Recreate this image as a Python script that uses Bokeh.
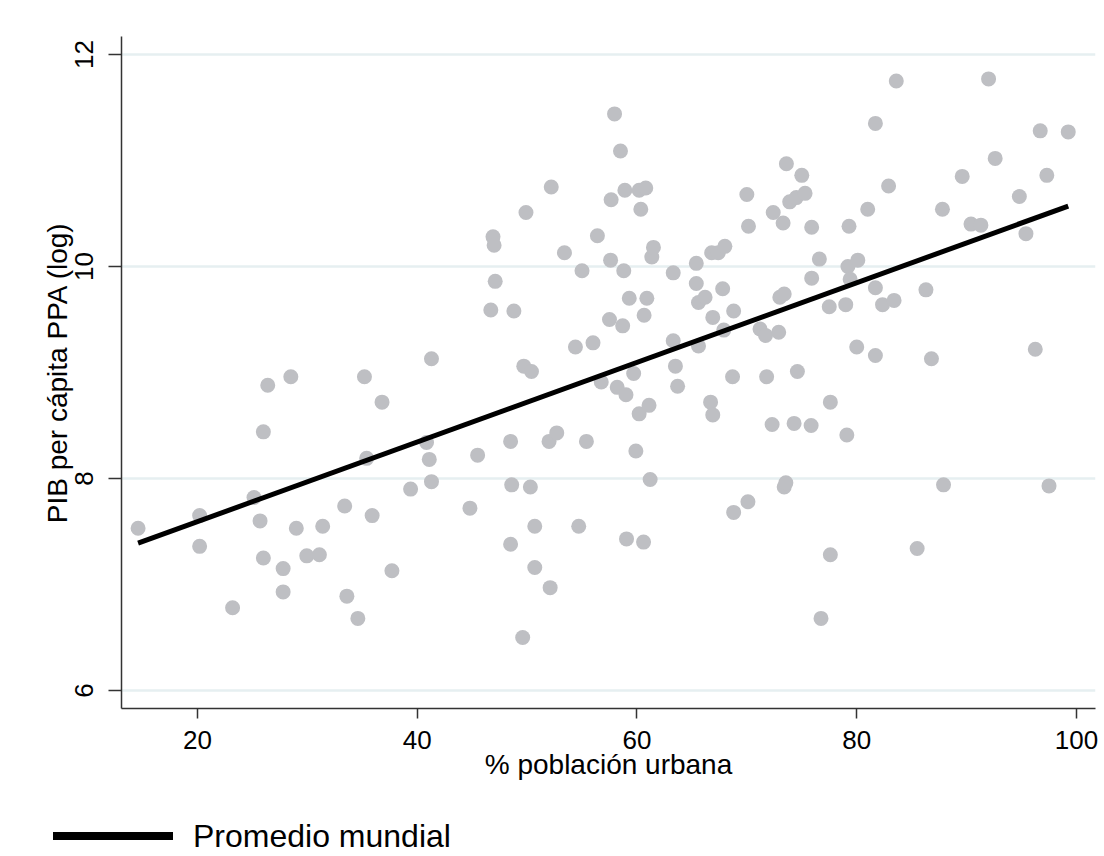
from bokeh.plotting import figure
from bokeh.layouts import column
from bokeh.models import FixedTicker, Range1d, Div
from bokeh.embed import file_html
from bokeh.resources import INLINE

# ---- data ----
urban_pct = [
    14.6, 20.2, 20.2, 23.2, 25.15, 25.7, 26.0, 26.0, 26.4, 27.8,
    27.8, 28.5, 29.0, 29.95, 31.1, 31.4, 33.4, 33.6, 34.6, 35.2,
    35.4, 35.9, 36.8, 37.7, 39.4, 40.85, 41.1, 41.3, 41.3, 44.8,
    45.5, 46.7, 46.9, 47.0, 47.1, 48.5, 48.5, 48.6, 48.8, 49.6,
    49.7, 49.9, 50.3, 50.4, 50.7, 50.7, 52.1, 52.0, 52.2, 52.7,
    53.4, 54.4, 54.7, 55.0, 55.4, 56.0, 56.4, 56.75, 57.5, 57.6,
    57.65, 57.96, 58.2, 58.5, 58.7, 58.8, 58.9, 59.0, 59.05, 59.3,
    59.7, 59.9, 60.2, 60.2, 60.35, 60.6, 60.65, 60.8, 60.9, 61.1,
    61.2, 61.35, 61.5, 63.3, 63.3, 63.5, 63.7, 65.4, 65.4, 65.6,
    65.6, 66.2, 66.7, 66.8, 66.9, 66.9, 67.4, 67.8, 67.9, 68.0,
    68.7, 68.8, 68.8, 70.0, 70.1, 70.15, 71.2, 71.7, 71.8, 72.3,
    72.4, 72.9, 73.0, 73.4, 73.3, 73.4, 73.55, 73.6, 73.9, 74.3,
    74.5, 74.6, 75.0, 75.3, 75.85, 75.9, 75.9, 76.6, 76.75, 77.5,
    77.6, 77.6, 79.0, 79.1, 79.2, 79.3, 79.4, 80.0, 80.1, 81.0,
    81.7, 81.7, 81.7, 82.35, 82.9, 83.4, 83.6, 85.5, 86.3, 86.8,
    87.8, 87.9, 89.6, 90.4, 91.3, 92.0, 92.6, 94.8, 95.4, 96.25,
    96.7, 97.3, 97.5, 99.25,
]
gdp_pc_log = [
    7.53, 7.65, 7.36, 6.78, 7.82, 7.60, 8.44, 7.25, 8.88, 7.15,
    6.93, 8.96, 7.53, 7.27, 7.28, 7.55, 7.74, 6.89, 6.68, 8.96,
    8.19, 7.65, 8.72, 7.13, 7.90, 8.34, 8.18, 7.97, 9.13, 7.72,
    8.22, 9.59, 10.28, 10.20, 9.86, 8.35, 7.38, 7.94, 9.58, 6.50,
    9.06, 10.51, 7.92, 9.01, 7.55, 7.16, 6.97, 8.35, 10.75, 8.43,
    10.13, 9.24, 7.55, 9.96, 8.35, 9.28, 10.29, 8.91, 9.50, 10.06,
    10.63, 11.44, 8.86, 11.09, 9.44, 9.96, 10.72, 8.79, 7.43, 9.70,
    8.99, 8.26, 10.72, 8.61, 10.54, 7.40, 9.54, 10.74, 9.70, 8.69,
    7.99, 10.09, 10.18, 9.94, 9.30, 9.06, 8.87, 10.03, 9.84, 9.66,
    9.25, 9.71, 8.72, 10.13, 8.60, 9.52, 10.13, 9.79, 9.40, 10.19,
    8.96, 9.58, 7.68, 10.68, 7.78, 10.38, 9.41, 9.35, 8.96, 8.51,
    10.51, 9.38, 9.71, 9.74, 10.41, 7.92, 7.96, 10.97, 10.61, 8.52,
    10.65, 9.01, 10.86, 10.69, 8.50, 10.37, 9.89, 10.07, 6.68, 9.62,
    8.72, 7.28, 9.64, 8.41, 10.00, 10.38, 9.88, 9.24, 10.06, 10.54,
    11.35, 9.80, 9.16, 9.64, 10.76, 9.68, 11.75, 7.34, 9.78, 9.13,
    10.54, 7.94, 10.85, 10.40, 10.39, 11.77, 11.02, 10.66, 10.31, 9.22,
    11.28, 10.86, 7.93, 11.27,
]
fit_x = [14.6, 99.25]
fit_y = [7.39, 10.57]

x_ticks = [20, 40, 60, 80, 100]
y_ticks = [6, 8, 10, 12]
x_title = "% población urbana"
y_title = "PIB per cápita PPA (log)"
legend_label = "Promedio mundial"

FONT = "Liberation Sans"
GRID = "#e6eff1"
AXIS = "#333333"

p = figure(width=1104, height=816, output_backend="svg", toolbar_location=None,
           x_range=Range1d(13.09, 101.73), y_range=Range1d(5.83, 12.17))
p.min_border_left = 121
p.min_border_right = 9
p.min_border_top = 36
p.min_border_bottom = 108
p.outline_line_color = None
p.background_fill_color = "white"
p.border_fill_color = "white"

p.scatter(urban_pct, gdp_pc_log, size=15, fill_color="#bebfc3", line_color=None)
p.line(fit_x, fit_y, line_width=5, line_color="black")

p.xgrid.visible = False
p.ygrid.ticker = FixedTicker(ticks=y_ticks)
p.ygrid.grid_line_color = GRID
p.ygrid.grid_line_width = 2.5

for ax in (p.xaxis[0], p.yaxis[0]):
    ax.axis_line_color = AXIS
    ax.axis_line_width = 1.5
    ax.major_tick_line_color = AXIS
    ax.major_tick_line_width = 1.5
    ax.major_tick_in = 0
    ax.minor_tick_line_color = None
    ax.major_label_text_font = FONT
    ax.major_label_text_font_size = "26px"
    ax.major_label_text_color = "black"
    ax.axis_label_text_font = FONT
    ax.axis_label_text_font_size = "28px"
    ax.axis_label_text_font_style = "normal"
    ax.axis_label_text_color = "black"

p.xaxis.ticker = FixedTicker(ticks=x_ticks)
p.xaxis.major_tick_out = 10
p.xaxis.major_label_standoff = 12
p.xaxis.axis_label = x_title
p.xaxis.axis_label_standoff = -3

p.yaxis.ticker = FixedTicker(ticks=y_ticks)
p.yaxis.major_tick_out = 13
p.yaxis.major_label_orientation = "vertical"
p.yaxis.major_label_standoff = 15
p.yaxis.axis_label = y_title
p.yaxis.axis_label_standoff = 0

# legend strip below the graph
legend_html = (
    '<div style="display:flex;align-items:center;height:32px;padding-top:8px;'
    "font-family:'Liberation Sans',Arial,sans-serif;font-size:32px;line-height:32px;"
    'color:#000;white-space:nowrap;">'
    '<span style="display:inline-block;width:120px;height:8px;background:#000;'
    'margin-left:53px;margin-right:20px;"></span>'
    f'{legend_label}</div>'
)
legend_div = Div(text=legend_html, width=1104, height=40, margin=0)

layout = column(p, legend_div, spacing=0)
open("out.html", "w").write(file_html(layout, INLINE))
